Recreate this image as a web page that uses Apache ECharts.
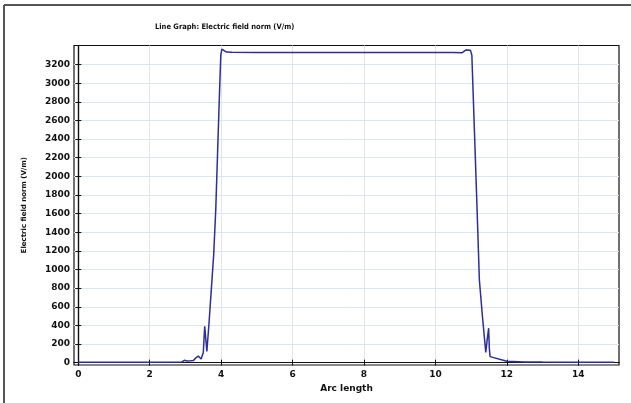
<!DOCTYPE html>
<html>
<head>
<meta charset="utf-8">
<script src="https://cdn.jsdelivr.net/npm/echarts@6/dist/echarts.min.js"></script>
<style>html,body{margin:0;padding:0;background:#fff;}#c{width:631px;height:403px;}</style>
</head>
<body>
<div id="c"></div>
<script>
const titleText = 'Line Graph: Electric field norm (V/m)';
const xName = 'Arc length';
const yName = 'Electric field norm (V/m)';
const xTicks = [0, 2, 4, 6, 8, 10, 12, 14];
const yTicks = [0, 200, 400, 600, 800, 1000, 1200, 1400, 1600, 1800, 2000, 2200, 2400, 2600, 2800, 3000, 3200];
const arcLength = [0, 0.5, 1, 1.5, 2, 2.5, 2.9, 2.97, 3.05, 3.15, 3.22, 3.3, 3.36, 3.44, 3.5, 3.54, 3.6, 3.66, 3.72, 3.79, 3.85, 3.9, 3.95, 3.99, 4.02, 4.06, 4.15, 4.3, 5, 6, 7, 8, 9, 10, 10.5, 10.75, 10.8, 10.86, 10.98, 11.0, 11.02, 11.1, 11.17, 11.23, 11.32, 11.41, 11.45, 11.49, 11.51, 11.53, 12.0, 12.5, 13, 14, 15];
const fieldNorm = [5, 5, 5, 5, 5, 5, 8, 25, 18, 20, 22, 55, 70, 40, 110, 390, 120, 420, 760, 1150, 1650, 2250, 2850, 3300, 3365, 3350, 3335, 3332, 3330, 3330, 3330, 3330, 3330, 3330, 3330, 3328, 3345, 3358, 3355, 3350, 3300, 2400, 1600, 890, 480, 110, 250, 370, 150, 65, 15, 8, 6, 5, 5];

const data = arcLength.map((x, i) => [x, fieldNorm[i]]);
const xMin = -0.12, xMax = 15.14, yMin = -25, yMax = 3405;
const font = 'DejaVu Sans';
const chart = echarts.init(document.getElementById('c'));
chart.setOption({
  animation: false,
  backgroundColor: '#fff',
  title: {
    text: titleText, left: 150, top: 18,
    textStyle: { fontFamily: 'DejaVu Sans Condensed', fontSize: 7.5, fontWeight: 'bold', color: '#111' }
  },
  graphic: [
    { type: 'line', shape: { x1: 4, y1: 5, x2: 4, y2: 403 }, style: { stroke: '#555', lineWidth: 2 } },
    { type: 'line', shape: { x1: 4, y1: 5, x2: 631, y2: 5 }, style: { stroke: '#555', lineWidth: 2 } }
  ],
  grid: { left: 74, right: 12, top: 45.5, bottom: 38, show: true, borderColor: '#111', borderWidth: 1.2 },
  xAxis: [{
    type: 'value', min: xMin, max: xMax, position: 'bottom',
    name: xName, nameLocation: 'middle', nameGap: 12,
    nameTextStyle: { fontFamily: font, fontSize: 9, fontWeight: 'bold', color: '#111' },
    axisLine: { show: true, lineStyle: { color: '#111', width: 1.2 } },
    axisTick: { show: true, inside: true, length: 3, customValues: xTicks, lineStyle: { color: '#111' } },
    axisLabel: { customValues: xTicks, formatter: v => String(v), fontFamily: font, fontSize: 9, fontWeight: 'bold', color: '#111', margin: 5 },
    splitLine: { show: true, lineStyle: { color: '#dde6ef', width: 1 } }
  }, {
    type: 'value', min: xMin, max: xMax, position: 'top',
    axisLine: { show: true, lineStyle: { color: '#111', width: 1.2 } },
    axisTick: { show: true, inside: true, length: 3, customValues: xTicks, lineStyle: { color: '#111' } },
    axisLabel: { show: false },
    splitLine: { show: false }
  }],
  yAxis: [{
    type: 'value', min: yMin, max: yMax, position: 'left',
    name: yName, nameLocation: 'middle', nameGap: 46,
    nameTextStyle: { fontFamily: font, fontSize: 7, fontWeight: 'bold', color: '#111' },
    axisLine: { show: true, lineStyle: { color: '#111', width: 1.2 } },
    axisTick: { show: true, inside: true, length: 3, customValues: yTicks, lineStyle: { color: '#111' } },
    axisLabel: { customValues: yTicks, formatter: v => String(v), fontFamily: font, fontSize: 9, fontWeight: 'bold', color: '#111', margin: 4 },
    splitLine: { show: true, lineStyle: { color: '#dde6ef', width: 1 } }
  }, {
    type: 'value', min: yMin, max: yMax, position: 'right',
    axisLine: { show: true, lineStyle: { color: '#111', width: 1.2 } },
    axisTick: { show: true, inside: true, length: 3, customValues: yTicks, lineStyle: { color: '#111' } },
    axisLabel: { show: false },
    splitLine: { show: false }
  }],
  series: [{
    type: 'line', xAxisIndex: 0, yAxisIndex: 0, data: data,
    showSymbol: false, symbol: 'none',
    lineStyle: { color: '#2d2d9c', width: 1.5 }
  }]
});
</script>
</body>
</html>
